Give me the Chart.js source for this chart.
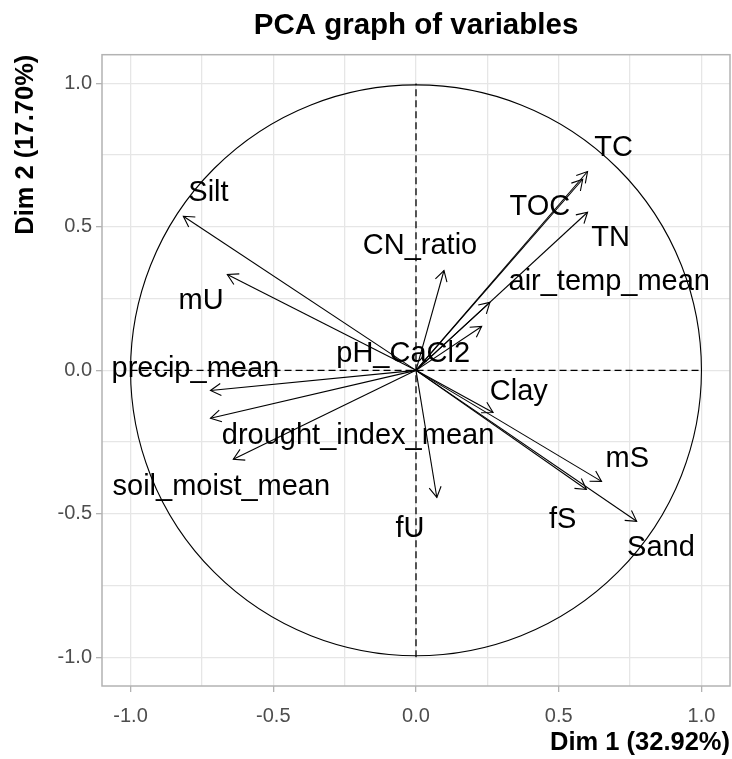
<!DOCTYPE html>
<html lang="en">
<head>
  <meta charset="UTF-8">
  <title>PCA graph of variables</title>
  <script src="https://cdn.jsdelivr.net/npm/chart.js"></script>
  <style>
    body { margin: 0; background: #ffffff; }
    #wrap { width: 732px; height: 759px; }
  </style>
</head>
<body>
  <div id="wrap"><canvas id="pcaChart" width="732" height="759"></canvas></div>
  <script>
    // variable names and their coordinates on Dim 1 / Dim 2
    const varNames = ['Silt', 'mU', 'precip_mean', 'drought_index_mean', 'soil_moist_mean',
      'pH_CaCl2', 'CN_ratio', 'TC', 'TOC', 'TN', 'air_temp_mean',
      'Clay', 'mS', 'fS', 'Sand', 'fU'];
    const dim1 = [-0.815, -0.661, -0.72, -0.72, -0.64, 0.23, 0.098, 0.601, 0.584, 0.601, 0.259,
      0.27, 0.65, 0.597, 0.773, 0.073];
    const dim2 = [0.537, 0.334, -0.07, -0.167, -0.31, 0.153, 0.348, 0.693, 0.666, 0.551, 0.237,
      -0.147, -0.387, -0.415, -0.526, -0.443];

    // where each label text sits (repelled away from the tips)
    const labelX = [-0.727, -0.753, -0.773, -0.203, -0.682, -0.045, 0.014, 0.692, 0.434, 0.682, 0.677,
      0.36, 0.74, 0.514, 0.858, -0.021];
    const labelY = [0.617, 0.240, 0.003, -0.23, -0.408, 0.056, 0.432, 0.774, 0.570, 0.462, 0.307,
      -0.075, -0.31, -0.523, -0.62, -0.554];

    const tickValues = [-1, -0.75, -0.5, -0.25, 0, 0.25, 0.5, 0.75, 1];
    const tickLabels = ['-1.0', '', '-0.5', '', '0.0', '', '0.5', '', '1.0'];

    const FONT = '"Liberation Sans", Arial, sans-serif';

    const datasets = varNames.map((name, i) => ({
      label: name,
      data: [{ x: 0, y: 0 }, { x: dim1[i], y: dim2[i] }],
      showLine: true,
      borderColor: '#000000',
      borderWidth: 1.1,
      pointRadius: 0
    }));
    // dashed reference lines through the origin
    datasets.push({
      label: 'h0',
      data: [{ x: -1, y: 0 }, { x: 1, y: 0 }],
      showLine: true, borderColor: '#000000', borderWidth: 1.3, borderDash: [7, 4], pointRadius: 0
    });
    datasets.push({
      label: 'v0',
      data: [{ x: 0, y: -1 }, { x: 0, y: 1 }],
      showLine: true, borderColor: '#000000', borderWidth: 1.3, borderDash: [7, 4], pointRadius: 0
    });

    const pcaDecor = {
      id: 'pcaDecor',
      beforeDatasetsDraw(chart) {
        const { ctx, chartArea, scales: { x, y } } = chart;
        ctx.save();
        // panel border
        ctx.strokeStyle = '#B3B3B3';
        ctx.lineWidth = 1.5;
        ctx.strokeRect(chartArea.left, chartArea.top, chartArea.right - chartArea.left, chartArea.bottom - chartArea.top);
        // correlation circle
        const cx = x.getPixelForValue(0), cy = y.getPixelForValue(0);
        const r = x.getPixelForValue(1) - cx;
        ctx.strokeStyle = '#000000';
        ctx.lineWidth = 1.1;
        ctx.beginPath();
        ctx.arc(cx, cy, r, 0, Math.PI * 2);
        ctx.stroke();
        ctx.restore();
      },
      afterDatasetsDraw(chart) {
        const { ctx, scales: { x, y } } = chart;
        const ox = x.getPixelForValue(0), oy = y.getPixelForValue(0);
        ctx.save();
        ctx.strokeStyle = '#000000';
        ctx.lineWidth = 1.1;
        const len = 12, ang = Math.PI / 6;
        for (let i = 0; i < varNames.length; i++) {
          const tx = x.getPixelForValue(dim1[i]), ty = y.getPixelForValue(dim2[i]);
          const a = Math.atan2(ty - oy, tx - ox);
          ctx.beginPath();
          ctx.moveTo(tx - len * Math.cos(a - ang), ty - len * Math.sin(a - ang));
          ctx.lineTo(tx, ty);
          ctx.lineTo(tx - len * Math.cos(a + ang), ty - len * Math.sin(a + ang));
          ctx.stroke();
        }
        ctx.fillStyle = '#000000';
        ctx.font = '29px ' + FONT;
        ctx.textAlign = 'center';
        ctx.textBaseline = 'middle';
        for (let i = 0; i < varNames.length; i++) {
          ctx.fillText(varNames[i], x.getPixelForValue(labelX[i]), y.getPixelForValue(labelY[i]));
        }
        ctx.restore();
      }
    };

    function axisOptions(titleText, titleFont, titlePadding) {
      return {
        type: 'linear',
        min: -1.1,
        max: 1.1,
        afterBuildTicks: (scale) => { scale.ticks = tickValues.map(v => ({ value: v })); },
        ticks: {
          autoSkip: false,
          maxRotation: 0,
          color: '#4D4D4D',
          font: { family: FONT, size: 20 },
          padding: 3,
          callback: (value, index) => tickLabels[index]
        },
        grid: {
          color: '#E6E6E6',
          lineWidth: 1.3,
          tickLength: 6,
          tickWidth: 1.3,
          tickColor: (c) => (c.index % 2 === 0 ? '#B3B3B3' : 'rgba(0,0,0,0)')
        },
        border: { display: false },
        title: {
          display: true,
          text: titleText,
          align: 'end',
          color: '#000000',
          font: { family: FONT, size: titleFont, weight: 'bold' },
          padding: titlePadding
        }
      };
    }

    const xAxis = axisOptions('Dim 1 (32.92%)', 25.5, { top: 0, bottom: 1 });
    xAxis.ticks.padding = 12;
    xAxis.afterFit = (scale) => { scale.height = 73; };
    const yAxis = axisOptions('Dim 2 (17.70%)', 25.5, { top: 11, bottom: 0 });
    yAxis.ticks.padding = 4;
    yAxis.afterFit = (scale) => { scale.width = 102; };

    const ctx = document.getElementById('pcaChart').getContext('2d');
    new Chart(ctx, {
      type: 'scatter',
      data: { datasets },
      options: {
        responsive: false,
        animation: false,
        layout: { padding: { left: 0, right: 2, top: 0, bottom: 0 } },
        plugins: {
          legend: { display: false },
          tooltip: { enabled: false },
          title: {
            display: true,
            text: 'PCA graph of variables',
            fullSize: false,
            color: '#000000',
            font: { family: FONT, size: 29.5, weight: 'bold' },
            padding: { top: 8, bottom: 11.3 }
          }
        },
        scales: { x: xAxis, y: yAxis }
      },
      plugins: [pcaDecor]
    });
  </script>
</body>
</html>
